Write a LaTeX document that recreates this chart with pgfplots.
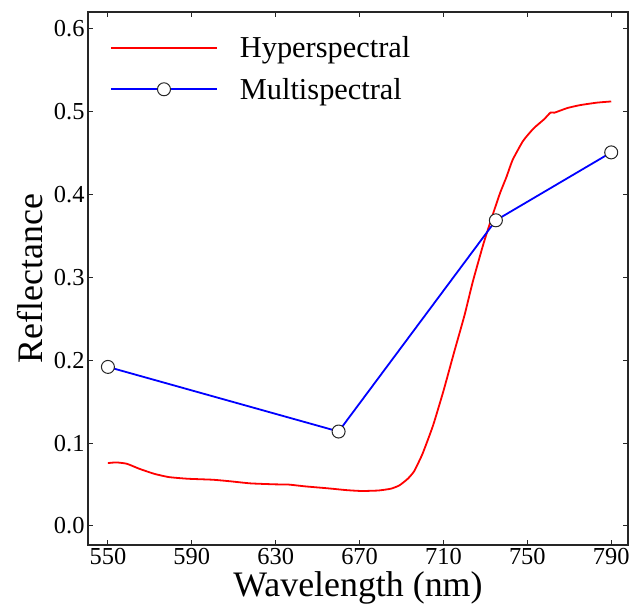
\documentclass[border=0pt]{standalone}
\usepackage{pgfplots}
\pgfplotsset{compat=1.18}
\usepackage{fontspec}
\setmainfont{Liberation Serif}
\begin{document}
\begin{tikzpicture}
\begin{axis}[
  scale only axis,
  width=540bp, height=533bp,
  xmin=540.5, xmax=798,
  ymin=-0.023, ymax=0.6205,
  xtick={550,590,630,670,710,750,790},
  ytick={0,0.1,0.2,0.3,0.4,0.5,0.6},
  yticklabel style={/pgf/number format/.cd, fixed, fixed zerofill, precision=1},
  /pgf/number format/assume math mode=true,
  tick align=inside,
  tick pos=both,
  major tick length=5bp,
  axis line style={line width=1.2bp, black!85},
  every tick/.style={line width=1bp, black!85},
  ticklabel style={font=\fontsize{24.5}{24.5}\selectfont},
  xlabel={Wavelength (nm)},
  ylabel={Reflectance},
  label style={font=\fontsize{36}{36}\selectfont},
  xlabel style={yshift=0bp},
  ylabel style={yshift=4bp},
  legend style={at={(0.035,0.962)}, anchor=north west, draw=none, fill=none,
    font=\fontsize{30.5}{30.5}\selectfont, row sep=15bp,
    /tikz/every odd column/.append style={column sep=20bp}},
  legend cell align=left,
  legend image code/.code={\draw[#1,mark=none,line width=1.8bp] (0bp,0bp) -- (106bp,0bp);
     \draw[#1, only marks] plot coordinates {(53bp,0bp)};},
]
\addplot[red, line width=1.8bp, mark=none, smooth, tension=0.3] coordinates {
(550,0.0759)(554,0.0767)(559,0.0751)(565,0.069)(572,0.063)(579,0.059)(588,0.057)
(600,0.0558)(608,0.054)(618,0.0514)(630,0.0502)(636,0.0500)(644,0.0478)(655,0.0454)
(664,0.0432)(671,0.0422)(679,0.0428)(685,0.045)(689,0.049)(693,0.057)(696,0.066)
(700,0.087)(705,0.121)(710,0.163)(715,0.209)(720,0.254)(724,0.295)(729,0.340)
(733,0.372)(737,0.402)(740,0.421)(743,0.442)(748,0.465)(753,0.480)(758,0.491)
(761,0.499)(763,0.499)(769,0.5045)(775,0.508)(783,0.511)(790,0.5125)
};
\addlegendentry{Hyperspectral}
\addplot[blue, line width=1.8bp, mark=*, mark size=6.5bp,
  mark options={fill=white, draw=black!85, line width=1bp}] coordinates {
(550,0.192)(660,0.114)(735,0.369)(790,0.451)
};
\addlegendentry{Multispectral}
\end{axis}
\pgfresetboundingbox
\path[use as bounding box] ([shift={(-88bp,-61bp)}]current axis.south west) rectangle ([shift={(12bp,12bp)}]current axis.north east);
\end{tikzpicture}
\end{document}
